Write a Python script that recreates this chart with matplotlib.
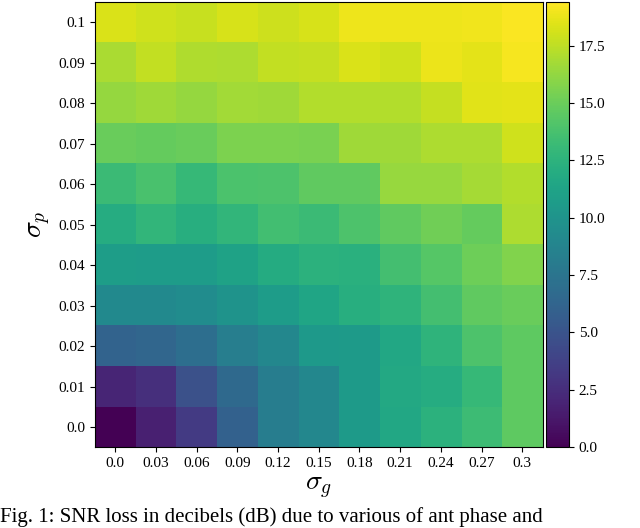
import matplotlib
matplotlib.use("Agg")
import matplotlib.pyplot as plt
import numpy as np

plt.rcParams['font.family'] = ['Liberation Serif', 'DejaVu Serif']
plt.rcParams['mathtext.fontset'] = 'cm'

sigma_g = ["0.0","0.03","0.06","0.09","0.12","0.15","0.18","0.21","0.24","0.27","0.3"]
sigma_p = ["0.0","0.01","0.02","0.03","0.04","0.05","0.06","0.07","0.08","0.09","0.1"]
# rows from sigma_p = 0.0 upward
snr_loss = [
    [0.0,1.7,3.3,6.0,8.2,9.0,10.6,11.6,12.5,13.3,14.6],
    [2.0,2.6,4.8,6.6,8.2,9.0,10.6,11.7,12.0,13.0,14.6],
    [6.2,6.4,7.0,8.3,9.0,10.5,10.6,11.6,12.6,14.0,14.6],
    [9.2,9.2,9.4,10.0,10.7,11.4,12.2,12.6,13.6,14.7,15.0],
    [10.8,10.7,10.7,11.2,11.9,12.5,12.3,13.6,14.3,15.1,15.7],
    [12.0,12.8,12.2,12.8,13.5,13.2,14.0,14.7,15.2,14.8,17.0],
    [13.2,13.8,13.0,13.9,14.0,14.7,14.7,16.4,16.4,16.8,17.2],
    [15.0,14.8,15.0,15.6,15.6,15.5,16.6,16.6,17.0,17.0,18.0],
    [16.3,16.6,16.3,16.7,16.6,17.2,17.2,17.2,17.7,18.5,18.6],
    [16.9,17.6,17.1,17.0,17.6,17.7,18.3,18.0,18.8,18.6,19.1],
    [18.3,18.0,17.8,18.2,17.9,18.2,18.9,18.9,18.9,19.0,19.3],
]

fig = plt.figure(figsize=(6.4, 5.28), dpi=100)
ax = fig.add_axes([0.148, 0.153, 0.700, 0.843])
cax = fig.add_axes([0.853, 0.153, 0.036, 0.843])
data = np.array(snr_loss)
im = ax.imshow(data, cmap='viridis', origin='lower', aspect='auto',
               vmin=0, vmax=19.4)
ax.set_xticks(range(len(sigma_g)))
ax.set_xticklabels(sigma_g, fontsize=11)
ax.set_yticks(range(len(sigma_p)))
ax.set_yticklabels(sigma_p, fontsize=11)
ax.set_xlabel(r'$\sigma_g$', fontsize=20)
ax.set_ylabel(r'$\sigma_p$', fontsize=20)
cb = fig.colorbar(im, cax=cax, ticks=np.arange(0, 19, 2.5))
cb.ax.tick_params(labelsize=11)
fig.text(0.0, 0.002, "Fig. 1: SNR loss in decibels (dB) due to various of ant phase and",
         fontsize=15, va='bottom', ha='left')
fig.savefig("out.png", dpi=100)
